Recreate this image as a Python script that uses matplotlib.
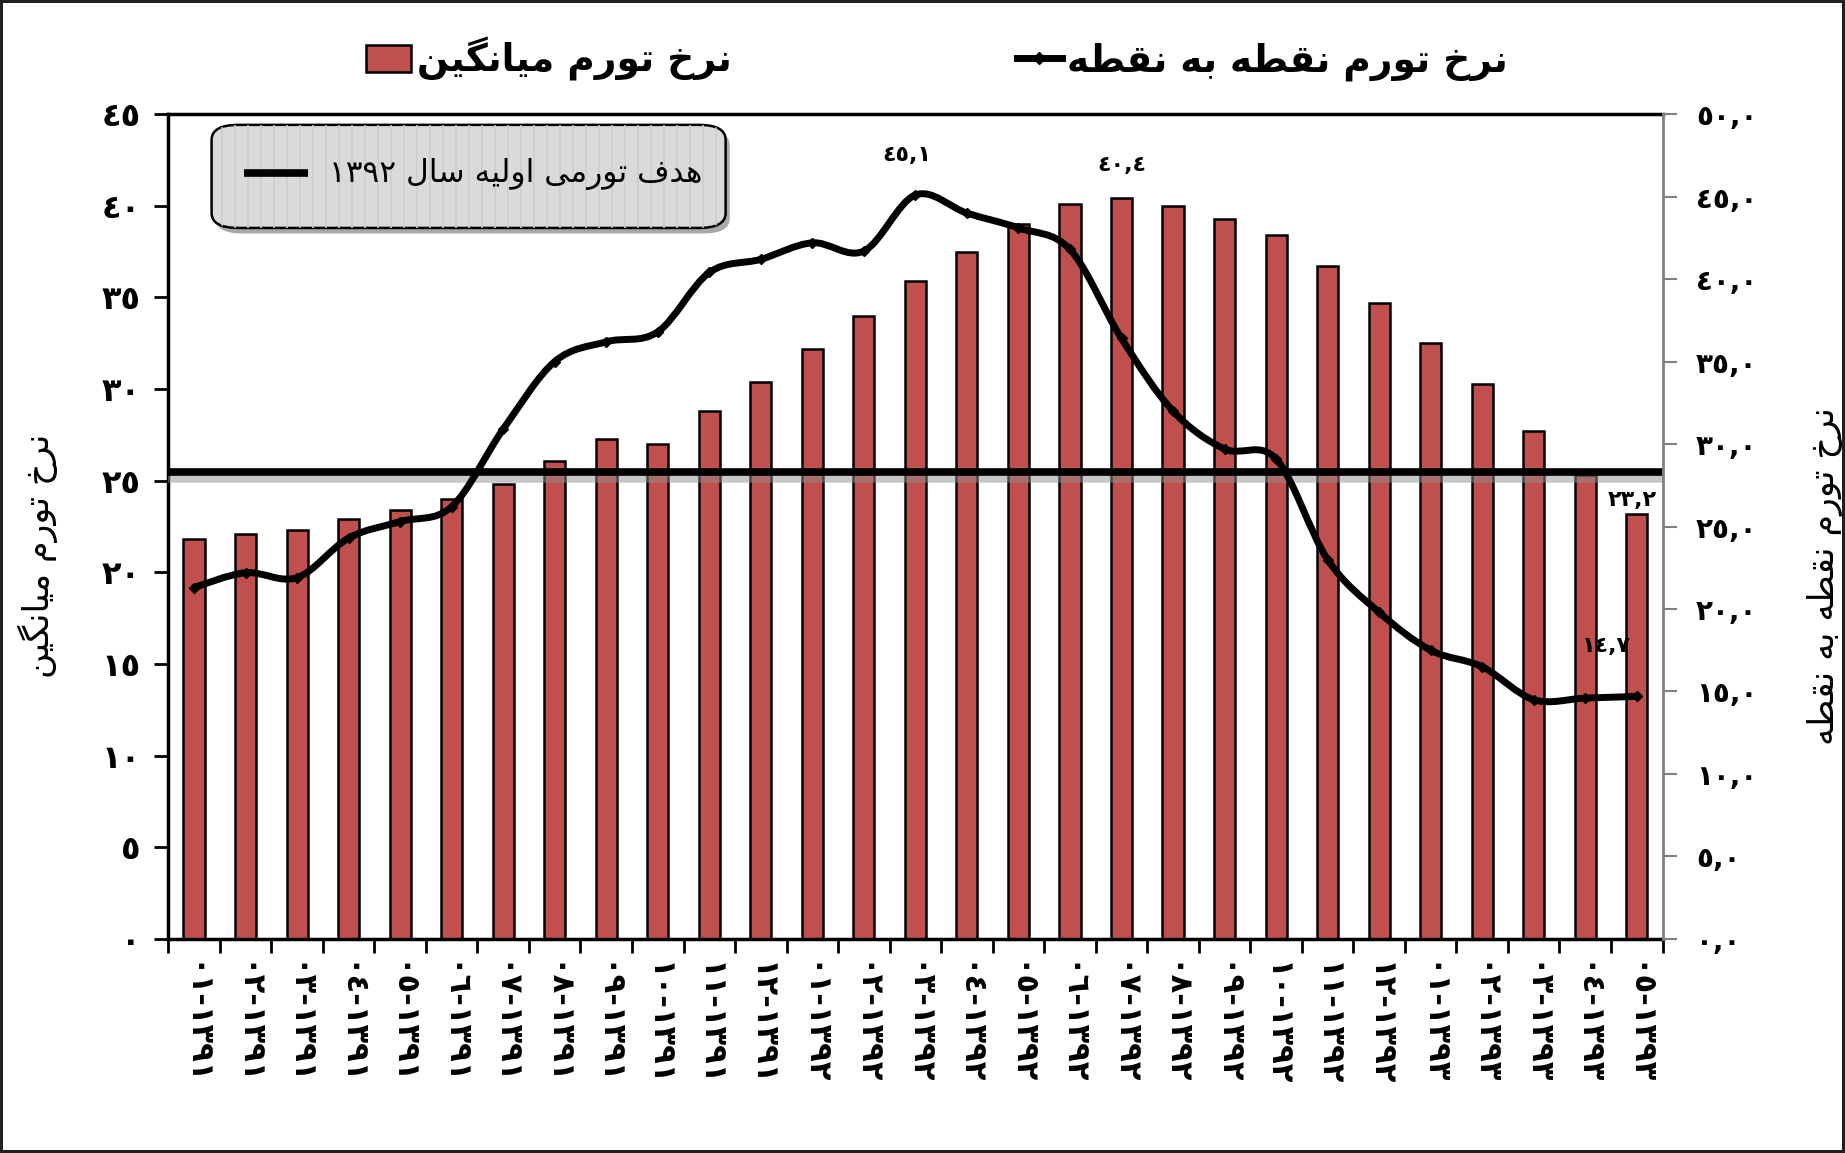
import re
import numpy as np
import matplotlib
matplotlib.use('Agg')
import matplotlib.pyplot as plt
import matplotlib.patheffects as pe
from matplotlib.path import Path
from matplotlib.patches import PathPatch, FancyBboxPatch, Patch
from matplotlib.lines import Line2D

plt.rcParams['font.family'] = ['DejaVu Sans']

# ---- data ----
periods = ['1391-01', '1391-02', '1391-03', '1391-04', '1391-05', '1391-06',
           '1391-07', '1391-08', '1391-09', '1391-10', '1391-11', '1391-12',
           '1392-01', '1392-02', '1392-03', '1392-04', '1392-05', '1392-06',
           '1392-07', '1392-08', '1392-09', '1392-10', '1392-11', '1392-12',
           '1393-01', '1393-02', '1393-03', '1393-04', '1393-05']
avg_inflation = [21.8, 22.1, 22.3, 22.9, 23.4, 24.0, 24.8, 26.1, 27.3, 27.0,
                 28.8, 30.4, 32.2, 34.0, 35.9, 37.5, 39.0, 40.1, 40.4, 40.0,
                 39.3, 38.4, 36.7, 34.7, 32.5, 30.3, 27.7, 25.3, 23.2]
p2p_inflation = [21.3, 22.2, 21.9, 24.3, 25.3, 26.2, 30.9, 35.0, 36.2, 36.8,
                 40.4, 41.2, 42.2, 41.7, 45.1, 44.0, 43.1, 41.8, 36.4, 32.0,
                 29.7, 29.1, 23.0, 19.8, 17.5, 16.5, 14.5, 14.6, 14.7]
target_1392 = 25.5

avg_label = 'نرخ تورم میانگین'
p2p_label = 'نرخ تورم نقطه به نقطه'
target_label = 'هدف تورمی اولیه سال ۱۳۹۲'
left_ticks = [0, 5, 10, 15, 20, 25, 30, 35, 40, 45]
right_ticks = [0, 5, 10, 15, 20, 25, 30, 35, 40, 45, 50]
# indices that carry a value label
avg_marked = [18, 28]
p2p_marked = [14, 28]

bar_color = '#C0504D'

# ---- minimal Arabic shaping (matplotlib has no complex text layout) ----
FORMS = {
    '\u0627': ('\uFE8D', '\uFE8E', None, None),
    '\u0628': ('\uFE8F', '\uFE90', '\uFE91', '\uFE92'),
    '\u062A': ('\uFE95', '\uFE96', '\uFE97', '\uFE98'),
    '\u062E': ('\uFEA5', '\uFEA6', '\uFEA7', '\uFEA8'),
    '\u062F': ('\uFEA9', '\uFEAA', None, None),
    '\u0631': ('\uFEAD', '\uFEAE', None, None),
    '\u0633': ('\uFEB1', '\uFEB2', '\uFEB3', '\uFEB4'),
    '\u0637': ('\uFEC1', '\uFEC2', '\uFEC3', '\uFEC4'),
    '\u0641': ('\uFED1', '\uFED2', '\uFED3', '\uFED4'),
    '\u0642': ('\uFED5', '\uFED6', '\uFED7', '\uFED8'),
    '\u0644': ('\uFEDD', '\uFEDE', '\uFEDF', '\uFEE0'),
    '\u0645': ('\uFEE1', '\uFEE2', '\uFEE3', '\uFEE4'),
    '\u0646': ('\uFEE5', '\uFEE6', '\uFEE7', '\uFEE8'),
    '\u0647': ('\uFEE9', '\uFEEA', '\uFEEB', '\uFEEC'),
    '\u0648': ('\uFEED', '\uFEEE', None, None),
    '\u06CC': ('\uFBFC', '\uFBFD', '\uFBFE', '\uFBFF'),
    '\u06AF': ('\uFB92', '\uFB93', '\uFB94', '\uFB95'),
}
DIGITS = str.maketrans('0123456789.', '٠١٢٣٤٥٦٧٨٩,')


def fa(text):
    text = text.translate(DIGITS)
    out = []
    for i, ch in enumerate(text):
        f = FORMS.get(ch)
        if f is None:
            out.append(ch)
            continue
        prev = text[i - 1] if i > 0 else ''
        nxt = text[i + 1] if i + 1 < len(text) else ''
        jp = prev in FORMS and FORMS[prev][2] is not None
        jn = f[2] is not None and nxt in FORMS
        out.append(f[3] if jp and jn else f[1] if jp else f[2] if jn else f[0])
    runs = re.findall(r'[\d,]+|[^\d,]+', ''.join(out))
    return ''.join(r if r[0].isdigit() else r[::-1] for r in reversed(runs))


def smooth_path(xs, ys):
    pts = np.column_stack([xs, ys]).astype(float)
    n = len(pts)
    verts, codes = [pts[0]], [Path.MOVETO]
    for i in range(n - 1):
        p0 = pts[i - 1] if i > 0 else pts[i]
        p1, p2 = pts[i], pts[i + 1]
        p3 = pts[i + 2] if i + 2 < n else pts[i + 1]
        verts += [p1 + (p2 - p0) / 6, p2 - (p3 - p1) / 6, p2]
        codes += [Path.CURVE4] * 3
    return Path(verts, codes)


x = np.arange(len(periods))

fig = plt.figure(figsize=(18.45, 11.53), dpi=100)
fig.patch.set_edgecolor('#202020')
fig.patch.set_linewidth(3)
ax = fig.add_axes([0.0912, 0.1857, 0.8099, 0.7153])
ax2 = ax.twinx()

ax.bar(x, avg_inflation, width=0.41, color=bar_color, edgecolor='black',
       linewidth=1.8, zorder=2)
ax.axhline(target_1392, color='black', lw=5.5, zorder=3,
           path_effects=[pe.SimpleLineShadow(offset=(0, -3), shadow_color='#909090', alpha=0.5, linewidth=9),
                         pe.Normal()])

ax2.add_patch(PathPatch(smooth_path(x, p2p_inflation), fill=False,
                        edgecolor='black', lw=5, capstyle='round', zorder=4))
ax2.plot(x, p2p_inflation, ls='none', marker='D', ms=5.5, color='black', zorder=5)

ax.set_xlim(-0.5, len(periods) - 0.5)
ax.set_ylim(0, 45)
ax2.set_ylim(0, 50)

# x ticks: boundaries outward, labels at centers
ax.set_xticks(np.arange(-0.5, len(periods), 1))
ax.set_xticklabels([])
ax.tick_params(axis='x', which='major', direction='out', length=10, width=2)
ax.set_xticks(x, minor=True)
ax.set_xticklabels([fa(p) for p in periods], minor=True, rotation=-90,
                   fontsize=22, fontweight='bold')
ax.tick_params(axis='x', which='minor', direction='in', length=5, width=1.5, pad=17)

ax.set_yticks(left_ticks)
ax.set_yticklabels([fa(str(v)) for v in left_ticks], fontsize=23, fontweight='bold')
ax.tick_params(axis='y', direction='out', length=10, width=2, pad=10)
ax2.set_yticks(right_ticks)
ax2.set_yticklabels([fa('%.1f' % v) for v in right_ticks], fontsize=20, fontweight='bold')
ax2.tick_params(axis='y', direction='out', length=10, width=1.5, color='gray', pad=14)

for sp in ['left', 'top', 'bottom']:
    ax.spines[sp].set_linewidth(2.5)
    ax2.spines[sp].set_visible(False)
ax2.spines['right'].set_color('gray')
ax2.spines['right'].set_linewidth(2)
ax.spines['right'].set_visible(False)

ax.set_ylabel(fa(avg_label), fontsize=25, rotation=90)
ax.yaxis.set_label_coords(-0.074, 0.465)
ax2.set_ylabel(fa(p2p_label), fontsize=25, rotation=90)
ax2.yaxis.set_label_coords(1.097, 0.44)

# value labels
for i in avg_marked:
    ax.annotate(fa('%.1f' % avg_inflation[i]), (x[i], avg_inflation[i]),
                xytext=(-3, 10) if i == x[-1] else (0, 24), textcoords='offset points',
                ha='center', va='center', fontsize=16, fontweight='bold', zorder=6)
for i in p2p_marked:
    ax2.annotate(fa('%.1f' % p2p_inflation[i]), (x[i], p2p_inflation[i]),
                 xytext=(-22, 36) if i == x[-1] else (-6, 29), textcoords='offset points',
                 ha='center', va='center', fontsize=16, fontweight='bold', zorder=6)

# target-line box
box = FancyBboxPatch((0.029, 0.862), 0.344, 0.125, transform=ax.transAxes,
                     boxstyle='round,pad=0,rounding_size=0.018', facecolor='#DADADA',
                     edgecolor='black', lw=1.8, zorder=7,
                     path_effects=[pe.withSimplePatchShadow(offset=(3, -4), alpha=0.45)])
ax.add_patch(box)
stripes = ax.vlines(np.arange(0.036, 0.372, 0.0087), 0.862, 0.987, transform=ax.transAxes,
                    colors='#CDCDCD', lw=1.2, zorder=7.5)
stripes.set_clip_path(box)
ax.plot([0.0504, 0.0937], [0.929, 0.929], transform=ax.transAxes, color='black',
        lw=5.5, solid_capstyle='butt', zorder=8)
ax.text(0.3575, 0.927, fa(target_label), transform=ax.transAxes, ha='right',
        va='center', fontsize=22.5, zorder=8)

handles = [Patch(facecolor=bar_color, edgecolor='black', lw=1.8),
           Line2D([], [], color='black', lw=5, marker='D', ms=6)]
fig.legend(handles, [fa(avg_label), fa(p2p_label)], loc='center',
           bbox_to_anchor=(0.508, 0.949), ncol=2, frameon=False,
           prop={'size': 27, 'weight': 'bold'}, handlelength=1.2,
           handleheight=0.75, handletextpad=0.15, columnspacing=7.6)

fig.savefig('out.png', dpi=100)
